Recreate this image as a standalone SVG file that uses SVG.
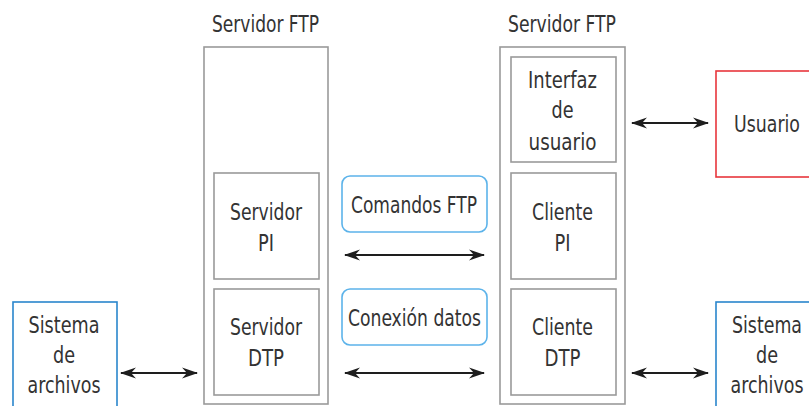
<svg xmlns="http://www.w3.org/2000/svg" width="809" height="406" viewBox="0 0 809 406">
  <defs>
    <marker id="head" viewBox="0 0 16 12" refX="15" refY="6" markerWidth="16" markerHeight="12" markerUnits="userSpaceOnUse" orient="auto-start-reverse">
      <path d="M0,0.5 L16,6 L0,11.5 L5,6 Z" fill="#1e1e1e"/>
    </marker>
  </defs>
  <style>
    text { font-family: "DejaVu Sans Condensed", "DejaVu Sans", "Liberation Sans", sans-serif; font-stretch: condensed; font-size: 23px; fill: #333; text-anchor: middle; }
    .frame { fill: #fff; stroke: #9a9a9a; stroke-width: 1.6; }
    .label { fill: #fff; stroke: #5cb3ea; stroke-width: 1.6; }
    .fs { fill: #fff; stroke: #2a86cc; stroke-width: 1.6; }
    .user { fill: #fff; stroke: #e8363c; stroke-width: 1.6; }
    .link { stroke: #1e1e1e; stroke-width: 1.8; fill: none; marker-start: url(#head); marker-end: url(#head); }
  </style>
  <rect width="809" height="406" fill="#fff"/>

  <!-- server side -->
  <g id="servidor">
    <text x="265.5" y="31.5" textLength="107" lengthAdjust="spacingAndGlyphs">Servidor FTP</text>
    <rect class="frame" x="204" y="47" width="124" height="357"/>
  </g>
  <g id="servidor-pi">
    <rect class="frame" x="214" y="173" width="105" height="106"/>
    <text x="266" y="220" textLength="72" lengthAdjust="spacingAndGlyphs">Servidor</text>
    <text x="266" y="251" textLength="16" lengthAdjust="spacingAndGlyphs">PI</text>
  </g>
  <g id="servidor-dtp">
    <rect class="frame" x="214" y="289" width="105" height="106"/>
    <text x="266" y="335" textLength="72" lengthAdjust="spacingAndGlyphs">Servidor</text>
    <text x="266" y="366" textLength="36" lengthAdjust="spacingAndGlyphs">DTP</text>
  </g>

  <!-- client side -->
  <g id="cliente">
    <text x="562" y="31.5" textLength="108" lengthAdjust="spacingAndGlyphs">Servidor FTP</text>
    <rect class="frame" x="500" y="47" width="125" height="357"/>
  </g>
  <g id="interfaz">
    <rect class="frame" x="511" y="57" width="105" height="105"/>
    <text x="562.5" y="88" textLength="69" lengthAdjust="spacingAndGlyphs">Interfaz</text>
    <text x="562.5" y="118" textLength="22" lengthAdjust="spacingAndGlyphs">de</text>
    <text x="562.5" y="150" textLength="68" lengthAdjust="spacingAndGlyphs">usuario</text>
  </g>
  <g id="cliente-pi">
    <rect class="frame" x="511" y="173" width="105" height="106"/>
    <text x="562.5" y="220" textLength="61" lengthAdjust="spacingAndGlyphs">Cliente</text>
    <text x="562.5" y="251" textLength="16" lengthAdjust="spacingAndGlyphs">PI</text>
  </g>
  <g id="cliente-dtp">
    <rect class="frame" x="511" y="289" width="105" height="106"/>
    <text x="562.5" y="335" textLength="61" lengthAdjust="spacingAndGlyphs">Cliente</text>
    <text x="562.5" y="366" textLength="36" lengthAdjust="spacingAndGlyphs">DTP</text>
  </g>

  <!-- user and file systems (they run past the right edge) -->
  <g id="usuario">
    <rect class="user" x="716" y="71" width="110" height="106"/>
    <text x="767" y="132" textLength="66" lengthAdjust="spacingAndGlyphs">Usuario</text>
  </g>
  <g id="sistema-servidor">
    <rect class="fs" x="13" y="302" width="104" height="120"/>
    <text x="64" y="333" textLength="71" lengthAdjust="spacingAndGlyphs">Sistema</text>
    <text x="64" y="363" textLength="22" lengthAdjust="spacingAndGlyphs">de</text>
    <text x="64" y="393" textLength="73" lengthAdjust="spacingAndGlyphs">archivos</text>
  </g>
  <g id="sistema-cliente">
    <rect class="fs" x="716" y="302" width="110" height="120"/>
    <text x="767" y="333" textLength="70" lengthAdjust="spacingAndGlyphs">Sistema</text>
    <text x="767" y="363" textLength="22" lengthAdjust="spacingAndGlyphs">de</text>
    <text x="767" y="393" textLength="73" lengthAdjust="spacingAndGlyphs">archivos</text>
  </g>

  <!-- channel labels -->
  <g id="comandos">
    <rect class="label" x="342" y="176" width="145" height="56" rx="8"/>
    <text x="414" y="213" textLength="126" lengthAdjust="spacingAndGlyphs">Comandos FTP</text>
  </g>
  <g id="conexion">
    <rect class="label" x="342" y="289" width="145" height="56" rx="8"/>
    <text x="414.5" y="326" textLength="133" lengthAdjust="spacingAndGlyphs">Conexión datos</text>
  </g>

  <!-- connectors -->
  <g id="connectors">
    <line class="link" x1="345" y1="255" x2="484" y2="255"/>
    <line class="link" x1="345" y1="373" x2="484" y2="373"/>
    <line class="link" x1="121" y1="373" x2="197" y2="373"/>
    <line class="link" x1="632" y1="373" x2="708" y2="373"/>
    <line class="link" x1="632" y1="123" x2="708" y2="123"/>
  </g>
</svg>
